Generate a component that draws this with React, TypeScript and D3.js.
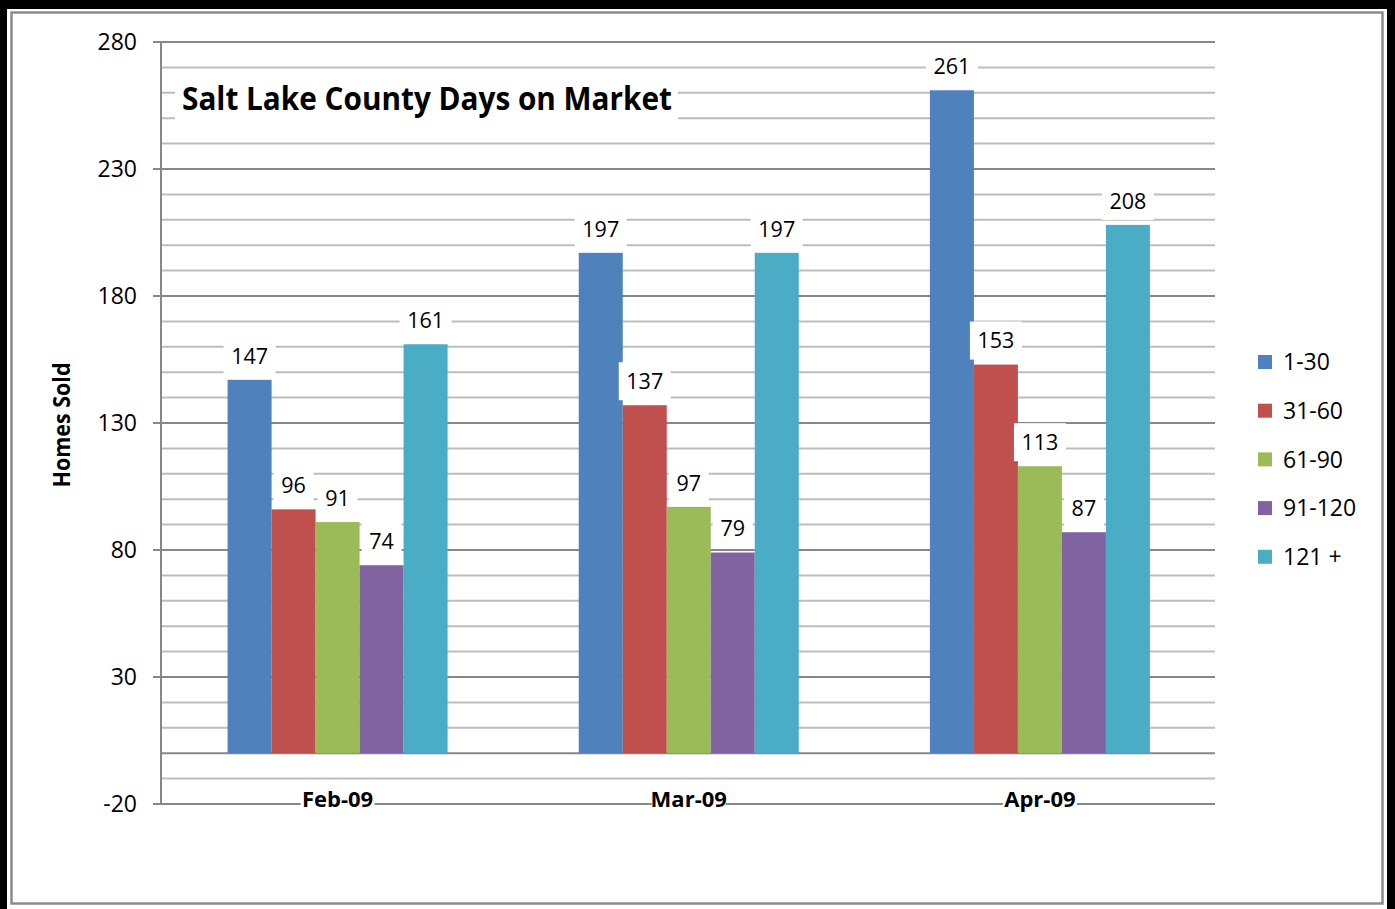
import React from "react";
import * as d3 from "d3";

const categories = ["Feb-09", "Mar-09", "Apr-09"];
const seriesNames = ["1-30", "31-60", "61-90", "91-120", "121 +"];
const seriesColors = ["#4F81BD", "#C0504D", "#9BBB59", "#8064A2", "#4BACC6"];
const values: number[][] = [
  [147, 197, 261],
  [96, 137, 153],
  [91, 97, 113],
  [74, 79, 87],
  [161, 197, 208],
];
const yTicks = [-20, 30, 80, 130, 180, 230, 280];
const title = "Salt Lake County Days on Market";
const yTitle = "Homes Sold";

const W = 1395;
const H = 909;
const FONT = "'Open Sans', 'Noto Sans', sans-serif";

export default function App() {
  const y = d3.scaleLinear().domain([-20, 280]).range([804, 42]);
  const x = d3
    .scaleBand<string>()
    .domain(categories)
    .range([162, 1215.5])
    .paddingInner(0.3735)
    .paddingOuter(0.3735 / 2);
  const xs = d3
    .scaleBand<string>()
    .domain(seriesNames)
    .range([0, x.bandwidth()])
    .padding(0);

  const plotLeft = 161;
  const plotRight = 1215;
  const minor = d3.range(-20, 281, 10).filter((v) => !yTicks.includes(v) && v !== 0);

  const labelItems: { x: number; y: number; text: string }[] = [];
  seriesNames.forEach((s, si) => {
    categories.forEach((c, ci) => {
      const v = values[si][ci];
      labelItems.push({
        x: (x(c) as number) + (xs(s) as number) + xs.bandwidth() / 2,
        y: y(v) - 24,
        text: String(v),
      });
    });
  });

  return (
    <div style={{ position: "absolute", left: 0, top: 0 }}>
      <svg width={W} height={H} style={{ display: "block" }}>
        <rect x={0} y={0} width={W} height={H} fill="#000" />
        <rect x={7} y={9} width={1380} height={H} fill="#fff" />
        <rect x={11.5} y={12.5} width={1371} height={891} fill="none" stroke="#8c8c8c" strokeWidth={2.5} />

        {/* minor gridlines */}
        {minor.map((v) => (
          <line key={"m" + v} x1={plotLeft} x2={plotRight} y1={y(v)} y2={y(v)} stroke="#bdbdbd" strokeWidth={2} />
        ))}
        {/* major gridlines */}
        {yTicks.map((v) => (
          <line key={"M" + v} x1={153} x2={plotRight} y1={y(v)} y2={y(v)} stroke="#878787" strokeWidth={2} />
        ))}
        {/* zero / category axis line */}
        <line x1={plotLeft} x2={plotRight} y1={y(0)} y2={y(0)} stroke="#878787" strokeWidth={2} />
        {/* y axis */}
        <line x1={plotLeft} x2={plotLeft} y1={y(280)} y2={y(-20)} stroke="#878787" strokeWidth={2} />

        {/* y tick labels */}
        {yTicks.map((v) => (
          <text key={"t" + v} x={137} y={y(v)} dy="0.36em" textAnchor="end" fontFamily={FONT} fontSize={23} fill="#000">
            {v}
          </text>
        ))}

        {/* title box */}
        <rect x={175} y={76} width={503} height={58} fill="#fff" />
        <text x={182} y={110} fontFamily={FONT} fontWeight="bold" fontSize={32} textLength={490} lengthAdjust="spacingAndGlyphs" fill="#000">
          {title}
        </text>

        {/* bars */}
        {seriesNames.map((s, si) =>
          categories.map((c, ci) => {
            const v = values[si][ci];
            return (
              <rect
                key={s + c}
                x={(x(c) as number) + (xs(s) as number)}
                y={y(v)}
                width={xs.bandwidth()}
                height={y(0) - y(v)}
                fill={seriesColors[si]}
              />
            );
          })
        )}

        {/* data labels */}
        {labelItems.map((d, i) => {
          const w = d.text.length * 12 + 16;
          return (
            <g key={"l" + i}>
              <rect x={d.x - w / 2} y={d.y - 19} width={w} height={38} fill="#fff" />
              <text x={d.x} y={d.y} dy="0.36em" textAnchor="middle" fontFamily={FONT} fontSize={21.5} fill="#000">
                {d.text}
              </text>
            </g>
          );
        })}

        {/* category labels */}
        {categories.map((c) => {
          const cx = (x(c) as number) + x.bandwidth() / 2;
          return (
            <g key={"c" + c}>
              <rect x={cx - 37} y={790} width={74} height={18} fill="#fff" />
              <text x={cx} y={807} textAnchor="middle" fontFamily={FONT} fontWeight="bold" fontSize={22} fill="#000">
                {c}
              </text>
            </g>
          );
        })}

        {/* y axis title */}
        <text
          transform={`translate(70,425) rotate(-90)`}
          textAnchor="middle"
          fontFamily={FONT}
          fontWeight="bold"
          fontSize={23}
          textLength={125}
          lengthAdjust="spacingAndGlyphs"
          fill="#000"
        >
          {yTitle}
        </text>

        {/* legend */}
        {seriesNames.map((s, i) => {
          const cy = 362 + i * 48.7;
          return (
            <g key={"lg" + s}>
              <rect x={1258} y={cy - 7} width={14} height={14} fill={seriesColors[i]} />
              <text x={1283} y={cy} dy="0.36em" fontFamily={FONT} fontSize={23} fill="#000">
                {s}
              </text>
            </g>
          );
        })}
      </svg>
    </div>
  );
}
